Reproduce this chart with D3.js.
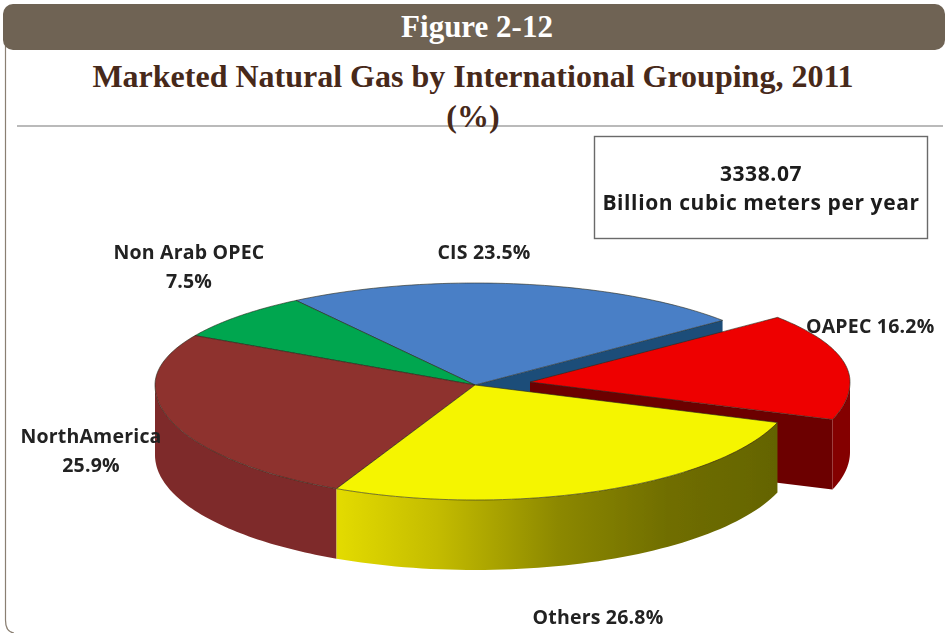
<!DOCTYPE html>
<html><head><meta charset="utf-8">
<script src="https://cdn.jsdelivr.net/npm/d3@7"></script>
<style>html,body{margin:0;padding:0;background:#fff}svg{display:block}</style></head>
<body><div id="chart"></div>
<script>
const categories = ["CIS", "OAPEC", "Others", "NorthAmerica", "Non Arab OPEC"];
const values = [23.5, 16.2, 26.8, 25.9, 7.5];
const topColors = ["#4a7fc6", "#ee0000", "#f5f500", "#8e302e", "#00a650"];
const sideColors = ["#1f4e79", "#840000", "url(#yellowSide)", "#7e2b29", "#007a3a"];
const cutColors = ["#1f4e79", "#6c0000", "#6b6b00", "#7e2b29", "#007a3a"];
const explode = [0, 1, 0, 0, 0];
const figureTitle = "Figure 2-12";
const chartTitle = "Marketed Natural Gas by International Grouping, 2011";
const unitText = "(%)";
const boxLines = ["3338.07", "Billion cubic meters per year"];

const W = 948, H = 633;
const svg = d3.select("#chart").append("svg").attr("width", W).attr("height", H);
const defs = svg.append("defs");
defs.append("filter").attr("id","soft").attr("x","-5%").attr("y","-5%").attr("width","110%").attr("height","110%")
  .append("feGaussianBlur").attr("stdDeviation",0.7);
defs.append("filter").attr("id","softText").attr("x","-5%").attr("y","-20%").attr("width","110%").attr("height","140%")
  .append("feGaussianBlur").attr("stdDeviation",0.6);
const grad = defs.append("linearGradient").attr("id","yellowSide").attr("gradientUnits","userSpaceOnUse")
  .attr("x1",341).attr("x2",776).attr("y1",0).attr("y2",0);
[[0,"#e2da00"],[0.22,"#c4bc00"],[0.5,"#8c8800"],[0.75,"#706e00"],[1,"#646400"]]
  .forEach(([o,c])=>grad.append("stop").attr("offset",o).attr("stop-color",c));

// frame
svg.append("path").attr("fill","none").attr("stroke","#8a7f72").attr("stroke-width",1.2)
  .attr("d","M5.5,40 V620 Q5.5,632 14,633");
svg.append("rect").attr("x",3).attr("y",4).attr("width",942).attr("height",46).attr("rx",10).attr("fill","#6f6354");
svg.append("text").attr("x",477).attr("y",37).attr("text-anchor","middle")
  .attr("font-family","Liberation Serif").attr("font-weight","bold").attr("font-size",31).attr("fill","#fff").text(figureTitle);
svg.append("text").attr("x",473).attr("y",87).attr("text-anchor","middle")
  .attr("font-family","Liberation Serif").attr("font-weight","bold").attr("font-size",32).attr("fill","#47291a").text(chartTitle);
svg.append("line").attr("x1",17).attr("x2",943).attr("y1",126).attr("y2",126).attr("stroke","#a3a3a3").attr("stroke-width",1.6);
svg.append("text").attr("x",473).attr("y",127).attr("text-anchor","middle")
  .attr("font-family","Liberation Serif").attr("font-weight","bold").attr("font-size",32).attr("fill","#47291a").text(unitText);

// info box
const fg = svg.append("g").attr("filter","url(#softText)");
fg.append("rect").attr("x",594.5).attr("y",136.5).attr("width",333).attr("height",102)
  .attr("fill","#fff").attr("stroke","#6a6a6a").attr("stroke-width",1.4);
const labelFont = "Open Sans";
fg.selectAll("text.box").data(boxLines).join("text").attr("class","box")
  .attr("x",761).attr("y",(d,i)=>181+i*29).attr("text-anchor","middle")
  .attr("font-family",labelFont).attr("font-weight","bold").attr("font-size",21).attr("letter-spacing",0.6).attr("fill","#1c1c1c").text(d=>d);

// pie
const cx = 475, cy = 385, rx = 320, ryFront = 115, ryBack = 102, depth = 70;
const xScale = d3.scaleLinear().domain([-1,1]).range([cx-rx,cx+rx]);
const yScale = d3.scaleLinear().domain([-1,0,1]).range([cy-ryBack,cy,cy+ryFront]);
const pieGen = d3.pie().sort(null).startAngle(-34*Math.PI/180).endAngle(326*Math.PI/180);
const slices = pieGen(values).map((s,i)=>({...s,i,name:categories[i],
  ox: explode[i]*55, oy: explode[i]*-3}));
const pt = (s,a,dz=0)=>[xScale(Math.sin(a))+s.ox, yScale(-Math.cos(a))+s.oy+dz];
const line = d3.line();
const arcAngles = (a0,a1)=>d3.range(0,61).map(k=>a0+(a1-a0)*k/60);
const apex = (s,dz=0)=>[cx+s.ox,cy+s.oy+dz];
const topPath = s=>line([apex(s),...arcAngles(s.startAngle,s.endAngle).map(a=>pt(s,a))])+"Z";
const sidePath = s=>{
  const a0=Math.max(s.startAngle,Math.PI/2), a1=Math.min(s.endAngle,3*Math.PI/2);
  if(a1<=a0) return null;
  const as=arcAngles(a0,a1);
  return line([...as.map(a=>pt(s,a)),...as.slice().reverse().map(a=>pt(s,a,depth))])+"Z";
};
const cutPath = (s,a)=>line([apex(s),pt(s,a),pt(s,a,depth),apex(s,depth)])+"Z";

const pie = svg.append("g").attr("filter","url(#soft)");
const stroke = "#2a2a1a";
function drawSlice(s){
  const g = pie.append("g");
  if(s.name==="CIS"){ g.append("path").attr("d",cutPath(s,s.endAngle)).attr("fill",cutColors[s.i]); }
  if(s.name==="OAPEC"){ g.append("path").attr("d",cutPath(s,s.endAngle)).attr("fill",cutColors[s.i]); }
  const sp = sidePath(s);
  if(sp) g.append("path").attr("d",sp).attr("fill",sideColors[s.i]);
  g.append("path").attr("d",topPath(s)).attr("fill",topColors[s.i])
    .attr("stroke",stroke).attr("stroke-opacity",0.6).attr("stroke-width",1);
}
// back to front
[0,4,3,1,2].forEach(i=>drawSlice(slices[i]));

// labels
const labelPos = [
  {x:484,y:259,anchor:"middle"},
  {x:806,y:333,anchor:"start"},
  {x:598,y:624,anchor:"middle"},
  {x:91,y:443,anchor:"middle",wrap:true},
  {x:189,y:259,anchor:"middle",wrap:true}
];
const lg = svg.append("g").attr("filter","url(#softText)");
slices.forEach(s=>{
  const p=labelPos[s.i], lines=p.wrap?[s.name,s.value.toFixed(1)+"%"]:[s.name+" "+s.value.toFixed(1)+"%"];
  lines.forEach((t,k)=>lg.append("text").attr("x",p.x).attr("y",p.y+k*29).attr("text-anchor",p.anchor)
    .attr("font-family",labelFont).attr("font-weight","bold").attr("font-size",19.5).attr("letter-spacing",0.2).attr("fill","#222").text(t));
});
</script></body></html>
